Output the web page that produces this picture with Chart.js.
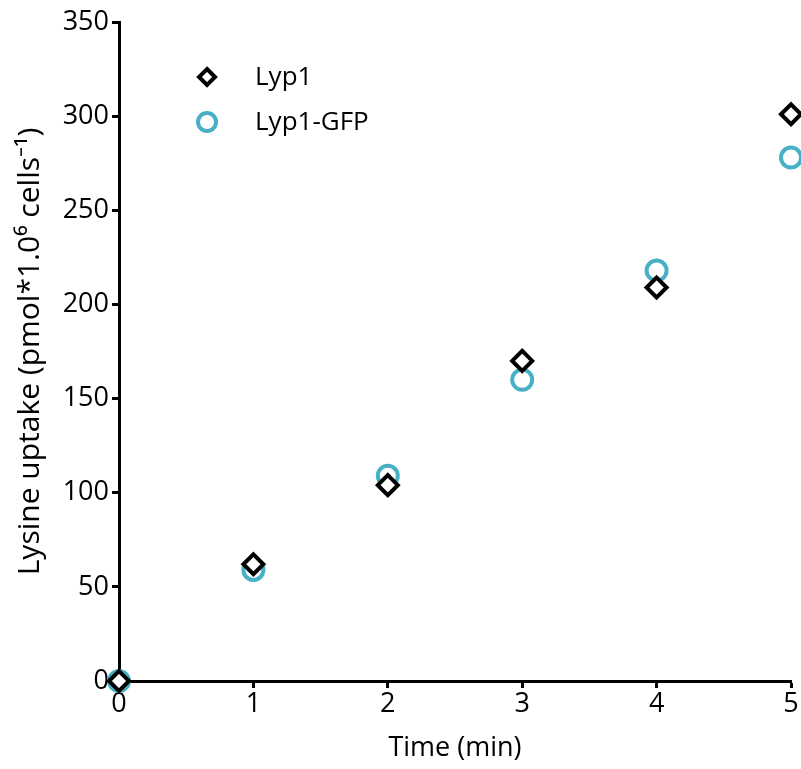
<!DOCTYPE html>
<html>
<head>
<meta charset="utf-8">
<script src="https://cdn.jsdelivr.net/npm/chart.js@4.4.0/dist/chart.umd.min.js"></script>
<style>
  html, body { margin: 0; padding: 0; background: #ffffff; }
  #wrap { width: 801px; height: 769px; }
</style>
</head>
<body>
<div id="wrap"><canvas id="uptakeChart" width="801" height="769"></canvas></div>
<script>
const seriesNames = ['Lyp1', 'Lyp1-GFP'];
const timeMin = [0, 1, 2, 3, 4, 5];
const lyp1 = [0, 62, 104, 170, 209, 301];
const lyp1Gfp = [0, 59, 109, 160, 218, 278];
const yTicks = [0, 50, 100, 150, 200, 250, 300, 350];
const xTicks = [0, 1, 2, 3, 4, 5];

const FONT = "'Open Sans', sans-serif";
const teal = '#47b0c6';

function toPoints(values) {
    return timeMin.map((t, i) => ({ x: t, y: values[i] }));
}

// legend drawn inside the plot, top-left, like the original figure
const innerLegend = {
    id: 'innerLegend',
    afterDatasetsDraw(chart) {
        const ctx = chart.ctx;
        const x0 = chart.scales.x.getPixelForValue(0.655);
        const rows = [chart.scales.y.getPixelForValue(320.8), chart.scales.y.getPixelForValue(296.9)];
        chart.data.datasets.forEach((ds, i) => {
            ctx.save();
            ctx.strokeStyle = ds.borderColor;
            ctx.fillStyle = '#ffffff';
            ctx.lineWidth = ds.borderWidth;
            ctx.beginPath();
            if (ds.pointStyle === 'circle') {
                ctx.arc(x0, rows[i], 9, 0, Math.PI * 2);
            } else {
                ctx.moveTo(x0, rows[i] - 8);
                ctx.lineTo(x0 + 8, rows[i]);
                ctx.lineTo(x0, rows[i] + 8);
                ctx.lineTo(x0 - 8, rows[i]);
                ctx.closePath();
            }
            ctx.fill();
            ctx.stroke();
            ctx.fillStyle = '#000000';
            ctx.font = '26px ' + FONT;
            ctx.textBaseline = 'middle';
            ctx.textAlign = 'left';
            ctx.fillText(ds.label, x0 + 48, rows[i] + 1);
            ctx.restore();
        });
    }
};

new Chart(document.getElementById('uptakeChart'), {
    type: 'scatter',
    data: {
        datasets: [
            {
                label: seriesNames[0],
                data: toPoints(lyp1),
                pointStyle: 'rectRot',
                pointRadius: 10,
                pointHoverRadius: 10,
                borderWidth: 4,
                borderColor: '#000000',
                backgroundColor: '#ffffff',
                clip: false
            },
            {
                label: seriesNames[1],
                data: toPoints(lyp1Gfp),
                pointStyle: 'circle',
                pointRadius: 10,
                pointHoverRadius: 10,
                borderWidth: 4,
                borderColor: teal,
                backgroundColor: '#ffffff',
                clip: false
            }
        ]
    },
    options: {
        responsive: false,
        animation: false,
        layout: { autoPadding: false, padding: { top: 22, right: 10, left: 0, bottom: 0 } },
        plugins: {
            legend: { display: false },
            tooltip: { enabled: false }
        },
        scales: {
            x: {
                type: 'linear',
                min: 0,
                max: 5,
                afterBuildTicks: (scale) => { scale.ticks = xTicks.map(v => ({ value: v })); },
                afterFit: (scale) => { scale.height = 88; scale.paddingRight = 0; scale.paddingLeft = 0; },
                border: { display: true, color: '#000000', width: 3 },
                grid: { display: true, drawOnChartArea: false, drawTicks: true, tickLength: 7, tickWidth: 3, tickColor: '#000000' },
                ticks: { color: '#000000', font: { family: FONT, size: 27 }, padding: 0, maxRotation: 0 },
                title: { display: true, text: 'Time (min)', color: '#000000', font: { family: FONT, size: 27 }, padding: { top: 0, bottom: 4 } }
            },
            y: {
                type: 'linear',
                min: 0,
                max: 350,
                afterBuildTicks: (scale) => { scale.ticks = yTicks.map(v => ({ value: v })); },
                afterFit: (scale) => { scale.width = 119; },
                border: { display: true, color: '#000000', width: 3 },
                grid: { display: true, drawOnChartArea: false, drawTicks: true, tickLength: 7, tickWidth: 3, tickColor: '#000000' },
                ticks: { color: '#000000', font: { family: FONT, size: 27 }, padding: 3 },
                title: { display: true, text: 'Lysine uptake (pmol*1.0\u2076 cells\u207B\u00B9)', color: '#000000', font: { family: FONT, size: 30 }, padding: { top: 12, bottom: 0 } }
            }
        }
    },
    plugins: [innerLegend]
});
</script>
</body>
</html>
